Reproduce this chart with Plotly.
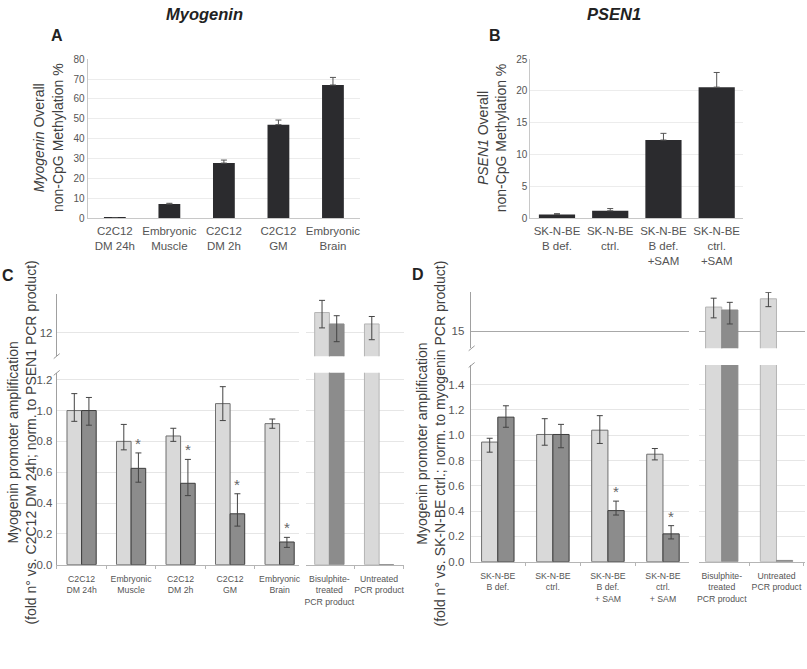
import plotly.graph_objects as go

W, H = 807, 669
FONT = "Liberation Sans, Arial, sans-serif"

# ---------------- data ----------------
A_categories = ["C2C12<br>DM 24h", "Embryonic<br>Muscle", "C2C12<br>DM 2h", "C2C12<br>GM", "Embryonic<br>Brain"]
A_values = [0.2, 7.2, 27.8, 47.1, 67.0]
A_errors = [0.0, 0.4, 1.5, 2.3, 3.8]

B_categories = ["SK-N-BE<br>B def.", "SK-N-BE<br>ctrl.", "SK-N-BE<br>B def.<br>+SAM", "SK-N-BE<br>ctrl.<br>+SAM"]
B_values = [0.6, 1.2, 12.3, 20.6]
B_errors = [0.15, 0.35, 1.05, 2.3]

C_categories = ["C2C12<br>DM 24h", "Embryonic<br>Muscle", "C2C12<br>DM 2h", "C2C12<br>GM", "Embryonic<br>Brain"]
C_light = [1.00, 0.80, 0.835, 1.045, 0.915]
C_light_err_plus = [0.11, 0.11, 0.05, 0.11, 0.03]
C_light_err_minus = [0.07, 0.055, 0.035, 0.11, 0.03]
C_dark = [1.00, 0.625, 0.528, 0.33, 0.147]
C_dark_err_plus = [0.085, 0.10, 0.155, 0.13, 0.03]
C_dark_err_minus = [0.095, 0.09, 0.08, 0.08, 0.035]
C_significant = [False, True, True, True, True]

C_ctrl_categories = ["Bisulphite-<br>treated<br>PCR product", "Untreated<br>PCR product"]
C_ctrl_light = [13.03, 12.45]
C_ctrl_light_err_plus = [0.62, 0.38]
C_ctrl_light_err_minus = [0.78, 0.80]
C_ctrl_dark = [12.45, 0.0]
C_ctrl_dark_err_plus = [0.42, 0.0]
C_ctrl_dark_err_minus = [0.90, 0.0]

D_categories = ["SK-N-BE<br>B def.", "SK-N-BE<br>ctrl.", "SK-N-BE<br>B def.<br>+ SAM", "SK-N-BE<br>ctrl.<br>+ SAM"]
D_light = [0.946, 1.006, 1.04, 0.85]
D_light_err_plus = [0.03, 0.125, 0.115, 0.045]
D_light_err_minus = [0.08, 0.085, 0.105, 0.045]
D_dark = [1.143, 1.006, 0.404, 0.22]
D_dark_err_plus = [0.09, 0.08, 0.075, 0.065]
D_dark_err_minus = [0.08, 0.105, 0.035, 0.04]
D_significant = [False, False, True, True]

D_ctrl_categories = ["Bisulphite-<br>treated<br>PCR product", "Untreated<br>PCR product"]
D_ctrl_light = [16.23, 16.65]
D_ctrl_light_err_plus = [0.45, 0.32]
D_ctrl_light_err_minus = [0.55, 0.40]
D_ctrl_dark = [16.08, 0.01]
D_ctrl_dark_err_plus = [0.39, 0.0]
D_ctrl_dark_err_minus = [0.71, 0.0]

# ---------------- styles ----------------
DARK_BAR = "#2b2b2e"
LIGHT_FILL, LIGHT_LINE = "#d9d9d9", "#6f6f6f"
DARK_FILL, DARK_LINE = "#8c8c8c", "#3c3c3c"
CTRL_LIGHT_LINE, CTRL_DARK_LINE = "#b4b4b4", "#8a8a8a"
ERR = dict(color="#444444", thickness=1, width=3)
BARGAP = 0.41


def fx(px):
    return px / W


def fy(py):
    return 1 - py / H


def err(plus, minus):
    return dict(type="data", symmetric=False, array=plus, arrayminus=minus, **ERR)


fig = go.Figure()

# Panel A
fig.add_trace(go.Bar(x=A_categories, y=A_values, width=0.40, marker=dict(color=DARK_BAR, line=dict(width=0)),
                     error_y=dict(type="data", symmetric=False, array=A_errors, arrayminus=[0] * len(A_errors),
                                  color="#555555", thickness=1, width=3),
                     xaxis="x", yaxis="y", showlegend=False))
# Panel B
fig.add_trace(go.Bar(x=B_categories, y=B_values, width=0.68, marker=dict(color=DARK_BAR, line=dict(width=0)),
                     error_y=dict(type="data", symmetric=False, array=B_errors, arrayminus=[0] * len(B_errors),
                                  color="#555555", thickness=1, width=3),
                     xaxis="x2", yaxis="y2", showlegend=False))


def broken_panel(cats, light, lep, lem, dark, dep, dem, ccats, clight, clep, clem, cdark, cdep, cdem,
                 xm, xc, ylo, yhi):
    # main part, lower
    fig.add_trace(go.Bar(x=cats, y=light, marker=dict(color=LIGHT_FILL, line=dict(color=LIGHT_LINE, width=1)),
                         error_y=err(lep, lem), xaxis=xm, yaxis=ylo, showlegend=False))
    fig.add_trace(go.Bar(x=cats, y=dark, marker=dict(color=DARK_FILL, line=dict(color=DARK_LINE, width=1)),
                         error_y=err(dep, dem), xaxis=xm, yaxis=ylo, showlegend=False))
    # main part, upper (out of range, keeps the subplot)
    fig.add_trace(go.Bar(x=cats, y=light, marker=dict(color=LIGHT_FILL, line=dict(color=LIGHT_LINE, width=1)),
                         xaxis=xm, yaxis=yhi, showlegend=False, hoverinfo="skip"))
    fig.add_trace(go.Bar(x=cats, y=dark, marker=dict(color=DARK_FILL, line=dict(color=DARK_LINE, width=1)),
                         xaxis=xm, yaxis=yhi, showlegend=False, hoverinfo="skip"))
    # control part, lower
    fig.add_trace(go.Bar(x=ccats, y=clight, marker=dict(color=LIGHT_FILL, line=dict(color=CTRL_LIGHT_LINE, width=1)),
                         xaxis=xc, yaxis=ylo, showlegend=False))
    fig.add_trace(go.Bar(x=ccats, y=cdark, marker=dict(color=DARK_FILL, line=dict(color=CTRL_DARK_LINE, width=1)),
                         xaxis=xc, yaxis=ylo, showlegend=False))
    # control part, upper
    fig.add_trace(go.Bar(x=ccats, y=clight, marker=dict(color=LIGHT_FILL, line=dict(color=CTRL_LIGHT_LINE, width=1)),
                         error_y=err(clep, clem), xaxis=xc, yaxis=yhi, showlegend=False))
    fig.add_trace(go.Bar(x=ccats, y=cdark, marker=dict(color=DARK_FILL, line=dict(color=CTRL_DARK_LINE, width=1)),
                         error_y=err(cdep, cdem), xaxis=xc, yaxis=yhi, showlegend=False))


broken_panel(C_categories, C_light, C_light_err_plus, C_light_err_minus, C_dark, C_dark_err_plus, C_dark_err_minus,
             C_ctrl_categories, C_ctrl_light, C_ctrl_light_err_plus, C_ctrl_light_err_minus,
             C_ctrl_dark, C_ctrl_dark_err_plus, C_ctrl_dark_err_minus, "x3", "x4", "y3", "y4")
broken_panel(D_categories, D_light, D_light_err_plus, D_light_err_minus, D_dark, D_dark_err_plus, D_dark_err_minus,
             D_ctrl_categories, D_ctrl_light, D_ctrl_light_err_plus, D_ctrl_light_err_minus,
             D_ctrl_dark, D_ctrl_dark_err_plus, D_ctrl_dark_err_minus, "x5", "x6", "y5", "y6")

# ---------------- axes ----------------
TICKC = "#555555"


def cat_x(dom, anchor, rng, size, standoff, line="#b5b5b5", ticks=True):
    d = dict(domain=[fx(dom[0]), fx(dom[1])], anchor=anchor, type="category", range=rng,
             showline=True, linecolor=line, linewidth=1, showgrid=False, zeroline=False, tickangle=0,
             tickfont=dict(size=size, color=TICKC, family=FONT), ticklabelstandoff=standoff, fixedrange=True)
    if ticks:
        d.update(ticks="outside", tickson="boundaries", ticklen=3, tickcolor=line)
    else:
        d.update(ticks="")
    return d


def num_y(dom, anchor, rng, size, grid="#e6e6e6", line="#a0a0a0", **kw):
    d = dict(domain=[fy(dom[0]), fy(dom[1])], anchor=anchor, range=rng, showline=True, linecolor=line,
             linewidth=1, showgrid=True, gridcolor=grid, gridwidth=1, zeroline=False, ticks="",
             tickfont=dict(size=size, color=TICKC, family=FONT), fixedrange=True)
    d.update(kw)
    return d


# category-unit ranges derived from bar centre positions (px)
C_main_rng = [-0.5025, 4.382]
C_ctrl_rng = [-0.46, 1.50]
D_main_rng = [-0.493, 3.465]
D_ctrl_rng = [-0.424, 1.521]

fig.update_layout(
    xaxis=cat_x((86, 360), "y", [-0.5, 4.5], 11.5, 2, line="#c8c8c8", ticks=False),
    yaxis=num_y((217, 55), "x", [0, 80], 10, grid="#ececec", line="#c8c8c8", dtick=10, ticklabelstandoff=0),
    xaxis2=cat_x((531, 745), "y2", [-0.5, 3.5], 11.5, 2, line="#c8c8c8", ticks=False),
    yaxis2=num_y((217, 55), "x2", [0, 25], 10, grid="#ececec", line="#c8c8c8", dtick=5, ticklabelstandoff=0),
    xaxis3=cat_x((55, 298), "y3", C_main_rng, 8.7, 6),
    xaxis4=cat_x((306, 404), "y3", C_ctrl_rng, 8.7, 6),
    yaxis3=num_y((569, 374), "x3", [0, 1.2447], 11.5, dtick=0.2, tick0=0, tickformat=".1f", ticklabelstandoff=1),
    yaxis4=num_y((357, 294), "x3", [10.815, 13.965], 11.5, tickvals=[12], ticktext=["12"], ticklabelstandoff=1),
    xaxis5=cat_x((471, 690), "y5", D_main_rng, 8.7, 6),
    xaxis6=cat_x((700, 807), "y5", D_ctrl_rng, 8.7, 6),
    yaxis5=num_y((566, 366), "x5", [0, 1.5556], 11.5, dtick=0.2, tick0=0, tickformat=".1f", ticklabelstandoff=3),
    yaxis6=num_y((349, 292), "x5", [14.135, 16.985], 11.5, grid="#a8a8a8", tickvals=[15], ticktext=["15"],
                 ticklabelstandoff=3),
    barmode="group", bargap=BARGAP, bargroupgap=0,
    width=W, height=H, margin=dict(l=0, r=0, t=0, b=0),
    paper_bgcolor="white", plot_bgcolor="white",
    font=dict(family=FONT, color="#333333"),
)

# ---------------- annotations ----------------
ann = []


def star_annotations(cats, dark, dep, sig, xref, yref, dom, rng):
    cat_px = (dom[1] - dom[0]) / (rng[1] - rng[0])
    shift = cat_px * (1 - BARGAP) / 4
    for c, v, e, s in zip(cats, dark, dep, sig):
        if s:
            ann.append(dict(x=c, y=v + e, xref=xref, yref=yref, text="*", showarrow=False, yanchor="bottom",
                            xshift=shift, yshift=-1, font=dict(size=15, color="#666666", family=FONT)))


star_annotations(C_categories, C_dark, C_dark_err_plus, C_significant, "x3", "y3", (55, 298), C_main_rng)
star_annotations(D_categories, D_dark, D_dark_err_plus, D_significant, "x5", "y5", (471, 690), D_main_rng)


def paper_text(px, py, text, size, color="#222222", angle=0):
    ann.append(dict(x=fx(px), y=fy(py), xref="paper", yref="paper", text=text, showarrow=False,
                    xanchor="center", yanchor="middle", textangle=angle,
                    font=dict(size=size, color=color, family=FONT)))


paper_text(203.5, 9, "<b><i>Myogenin</i></b>", 16.5)
paper_text(615, 9, "<b><i>PSEN1</i></b>", 16.5)
paper_text(55, 31, "<b>A</b>", 16)
paper_text(495, 31, "<b>B</b>", 16)
paper_text(6, 275, "<b>C</b>", 16)
paper_text(418, 274, "<b>D</b>", 16)
paper_text(46.5, 135, "<i>Myogenin</i> Overall<br>non-CpG Methylation %", 14, color="#404040", angle=-90)
paper_text(492, 135, "<i>PSEN1</i> Overall<br>non-CpG Methylation %", 14, color="#404040", angle=-90)
paper_text(20, 445, "Myogenin promoter amplification<br>(fold n° vs. C2C12 DM 24h; norm. to PSEN1 PCR product)",
           14, color="#404040", angle=-90)
paper_text(431, 446, "Myogenin promoter amplification<br>(fold n° vs. SK-N-BE ctrl.; norm. to myogenin PCR product)",
           14, color="#404040", angle=-90)

# axis break marks
shapes = []
for bx, by in [(55, 357), (55, 374), (472, 349), (472, 366)]:
    shapes.append(dict(type="line", xref="paper", yref="paper", x0=fx(bx - 3), y0=fy(by + 2.5),
                       x1=fx(bx + 3), y1=fy(by - 2.5), line=dict(color="#999999", width=1)))

fig.update_layout(annotations=ann, shapes=shapes)

fig.write_html("out.html")
